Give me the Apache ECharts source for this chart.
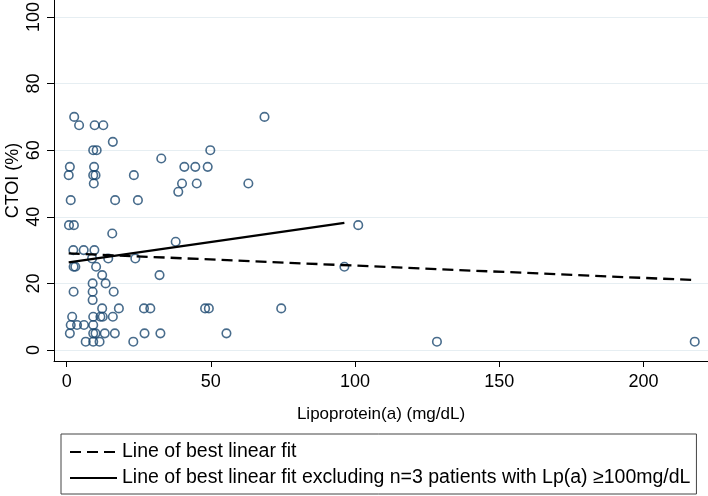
<!DOCTYPE html>
<html>
<head>
<meta charset="utf-8">
<script src="https://cdn.jsdelivr.net/npm/echarts@6/dist/echarts.min.js"></script>
<style>
  html, body { margin: 0; padding: 0; background: #fff; }
  #chart { width: 708px; height: 496px; }
</style>
</head>
<body>
<div id="chart"></div>
<script>
// 散点：Lp(a) 与 CTOI
const lpa = [2.6, 68.6, 4.3, 9.7, 12.7, 16, 9.2, 10.4, 49.8, 32.8,
  1.1, 9.5, 40.8, 44.6, 48.9, 0.7, 9.2, 10, 23.3, 9.4, 40, 45.1, 63, 38.7,
  1.4, 16.8, 24.7, 0.8, 2.5, 101.1, 15.8, 37.8, 2.3, 5.9, 9.6,
  8.8, 14.4, 23.8, 2.4, 3.0, 10.2, 96.3, 12.3, 32.2, 9, 13.5,
  2.4, 9, 16.3, 9, 12.3, 18.1, 26.8, 29, 48, 49.3, 74.4,
  1.9, 9.2, 11.7, 12.5, 16, 1.4, 3.6, 6, 9.2,
  1.1, 9.2, 10, 13.2, 16.7, 27, 32.5, 55.4,
  6.6, 9.2, 11.4, 23.1, 128.4, 217.8];
const ctoi = [70, 70, 67.5, 67.5, 67.5, 62.5, 60, 60, 60, 57.5,
  55, 55, 55, 55, 55, 52.5, 52.5, 52.5, 52.5, 50, 50, 50, 50, 47.5,
  45, 45, 45, 37.5, 37.5, 37.5, 35, 32.5, 30, 30, 30,
  27.5, 27.5, 27.5, 25, 25, 25, 25, 22.5, 22.5, 20, 20,
  17.5, 17.5, 17.5, 15, 12.5, 12.5, 12.5, 12.5, 12.5, 12.5, 12.5,
  10, 10, 10, 10, 10, 7.5, 7.5, 7.5, 7.5,
  5, 5, 5, 5, 5, 5, 5, 5,
  2.5, 2.5, 2.5, 2.5, 2.5, 2.5];

// 拟合线端点
const fitAllX = [0.7, 217.8];
const fitAllY = [29.0, 21.0];
const fitExclX = [0.7, 96.3];
const fitExclY = [26.3, 38.2];

const xTicks = [0, 50, 100, 150, 200];
const yTicks = [0, 20, 40, 60, 80, 100];

const legendNames = ['Line of best linear fit',
  'Line of best linear fit excluding n=3 patients with Lp(a) \u2265100mg/dL'];

const FONT = '"Liberation Sans", Arial, sans-serif';
const zip = (xs, ys) => xs.map((x, i) => [x, ys[i]]);

const chart = echarts.init(document.getElementById('chart'), null, { renderer: 'canvas' });

// 图例里不要圆点，只留线
const noDot = { color: 'rgba(0,0,0,0)', borderColor: 'rgba(0,0,0,0)', borderWidth: 0 };

chart.setOption({
  animation: false,
  backgroundColor: '#fff',
  textStyle: { fontFamily: FONT, color: '#000' },
  grid: { left: 54, right: 0, top: 0, bottom: 135, outerBoundsMode: 'none' },
  xAxis: {
    type: 'value', min: -4.4, max: 222.4,
    name: 'Lipoprotein(a) (mg/dL)', nameLocation: 'middle', nameGap: 45,
    nameMoveOverlap: false,
    nameTextStyle: { fontSize: 17, color: '#000', fontFamily: FONT },
    axisLine: { show: true, onZero: false, lineStyle: { color: '#000', width: 1 } },
    axisTick: { show: true, length: 6, customValues: xTicks, lineStyle: { color: '#000' } },
    axisLabel: { customValues: xTicks, fontSize: 18, color: '#000', margin: 12, fontFamily: FONT },
    splitLine: { show: false }
  },
  yAxis: {
    type: 'value', min: -3.3, max: 105.1,
    name: 'CTOI (%)', nameLocation: 'middle', nameGap: 32, nameRotate: 90,
    nameMoveOverlap: false,
    nameTextStyle: { fontSize: 18, color: '#000', fontFamily: FONT },
    axisLine: { show: true, onZero: false, lineStyle: { color: '#000', width: 1 } },
    axisTick: { show: true, length: 7, customValues: yTicks, lineStyle: { color: '#000' } },
    axisLabel: { customValues: yTicks, rotate: 90, fontSize: 18, color: '#000', margin: 11, fontFamily: FONT },
    splitLine: { show: true, lineStyle: { color: '#e6eef2', width: 1 } }
  },
  legend: {
    data: legendNames,
    orient: 'vertical', left: 61, top: 434,
    padding: [8, 6, 6, 8], itemGap: 6,
    itemWidth: 47, itemHeight: 12,
    borderColor: '#444', borderWidth: 1,
    itemStyle: { opacity: 0 },
    textStyle: { fontSize: 19.5, color: '#000', fontFamily: FONT },
    selectedMode: false
  },
  series: [
    {
      type: 'scatter', name: 'data',
      data: zip(lpa, ctoi),
      symbol: 'circle', symbolSize: 8.5,
      itemStyle: { color: 'rgba(0,0,0,0)', borderColor: '#1a476f', borderWidth: 1.6 },
      z: 3
    },
    {
      type: 'line', name: legendNames[0],
      data: zip(fitAllX, fitAllY),
      symbol: 'none', showSymbol: false,
      lineStyle: { color: '#000', width: 2.3, type: [11, 6] },
      itemStyle: noDot,
      z: 4
    },
    {
      type: 'line', name: legendNames[1],
      data: zip(fitExclX, fitExclY),
      symbol: 'none', showSymbol: false,
      lineStyle: { color: '#000', width: 2.3, type: 'solid' },
      itemStyle: noDot,
      z: 4
    }
  ]
});
</script>
</body>
</html>
